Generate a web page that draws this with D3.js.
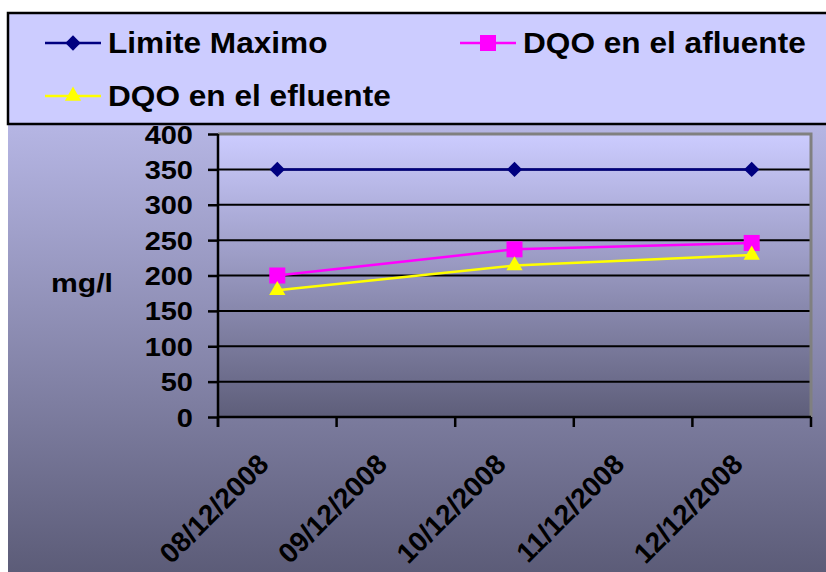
<!DOCTYPE html>
<html>
<head>
<meta charset="utf-8">
<script src="https://cdn.jsdelivr.net/npm/d3@7/dist/d3.min.js"></script>
<style>
  html, body { margin: 0; padding: 0; background: #fff; }
  svg { display: block; }
  text { font-family: "Liberation Sans", Arial, sans-serif; font-weight: bold; fill: #000; }
</style>
</head>
<body>
<svg id="chart" width="826" height="572"></svg>
<script>
// Fechas de muestreo (categorías del eje X)
const fechas = ["08/12/2008", "09/12/2008", "10/12/2008", "11/12/2008", "12/12/2008"];
// Valores en mg/l por fecha (null = sin muestra ese día)
const limiteMaximo = [350, null, 350, null, 350];
const dqoAfluente  = [200, null, 237, null, 246];
const dqoEfluente  = [179, null, 214, null, 229];
// Marcas del eje Y
const ticksY = [0, 50, 100, 150, 200, 250, 300, 350, 400];

const series = [
  { nombre: "Limite Maximo",      valores: limiteMaximo, color: "#000080", marca: "diamond" },
  { nombre: "DQO en el afluente", valores: dqoAfluente,  color: "#ff00ff", marca: "square" },
  { nombre: "DQO en el efluente", valores: dqoEfluente,  color: "#ffff00", marca: "triangle" }
];

const svg = d3.select("#chart");
const W = 826, H = 572;
const plot = { left: 218, right: 811, top: 134, bottom: 417 };
const ancho = 1.09; // ensanchamiento horizontal de los textos

const defs = svg.append("defs");
function vGrad(id, c0, c1) {
  const g = defs.append("linearGradient").attr("id", id)
    .attr("x1", 0).attr("y1", 0).attr("x2", 0).attr("y2", 1);
  g.append("stop").attr("offset", "0%").attr("stop-color", c0);
  g.append("stop").attr("offset", "100%").attr("stop-color", c1);
}
vGrad("fondo", "#ccccff", "#5c5c78");
vGrad("areaGrafico", "#ccccff", "#5e5e7a");

// Fondo del gráfico
svg.append("rect").attr("x", 8).attr("y", 13).attr("width", W - 8).attr("height", H - 13)
  .attr("fill", "url(#fondo)");

const x = d3.scaleBand().domain(fechas).range([plot.left, plot.right]).padding(0);
const y = d3.scaleLinear().domain([0, 400]).range([plot.bottom, plot.top]);
const cx = f => x(f) + x.bandwidth() / 2;

// Área de trazado
svg.append("rect")
  .attr("x", plot.left).attr("y", plot.top)
  .attr("width", plot.right - plot.left).attr("height", plot.bottom - plot.top)
  .attr("fill", "url(#areaGrafico)");

// Líneas de división horizontales
svg.append("g").selectAll("line").data(ticksY.filter(v => v > 0 && v < 400)).join("line")
  .attr("x1", plot.left).attr("x2", plot.right)
  .attr("y1", d => y(d)).attr("y2", d => y(d))
  .attr("stroke", "#000").attr("stroke-width", 2);

// Borde superior y derecho del área de trazado
svg.append("path")
  .attr("d", `M${plot.left},${plot.top}H${plot.right}V${plot.bottom}`)
  .attr("fill", "none").attr("stroke", "#808080").attr("stroke-width", 3);

// Eje Y
const ejeY = svg.append("g").attr("transform", `translate(${plot.left},0)`)
  .call(d3.axisLeft(y).tickValues(ticksY).tickSize(10).tickFormat(d3.format("d")));
ejeY.select(".domain").attr("stroke", "#000").attr("stroke-width", 2.5)
  .attr("d", `M0,${plot.top}V${plot.bottom + 10}`);
ejeY.selectAll(".tick line").attr("stroke", "#000").attr("stroke-width", 2.5);
ejeY.selectAll(".tick text")
  .attr("x", null).attr("dy", "0.36em")
  .attr("transform", `translate(-25,0) scale(${ancho + 0.07},1)`)
  .attr("font-size", 25).attr("font-family", null).attr("fill", "#000");

// Eje X
const bordes = fechas.map(f => x(f)).concat([plot.right]);
const ejeX = svg.append("g");
ejeX.append("line").attr("x1", plot.left).attr("x2", plot.right)
  .attr("y1", plot.bottom).attr("y2", plot.bottom)
  .attr("stroke", "#000").attr("stroke-width", 2.5);
ejeX.selectAll("line.marca").data(bordes).join("line").attr("class", "marca")
  .attr("x1", d => d).attr("x2", d => d)
  .attr("y1", plot.bottom).attr("y2", plot.bottom + 10)
  .attr("stroke", "#000").attr("stroke-width", 2.5);
ejeX.selectAll("text").data(fechas).join("text")
  .attr("transform", f => `translate(${cx(f) - 14},${plot.bottom + 42}) rotate(-45)`)
  .attr("text-anchor", "end").attr("dy", "0.35em")
  .attr("font-size", 28).text(f => f);

// Título del eje Y
svg.append("text").attr("transform", `translate(82,283) scale(${ancho + 0.07},1)`)
  .attr("text-anchor", "middle")
  .attr("dy", "0.35em").attr("font-size", 26).text("mg/l");

// Símbolos de las marcas
const simbolo = {
  diamond:  d3.symbol().type(d3.symbolDiamond2).size(150),
  square:   d3.symbol().type(d3.symbolSquare).size(256),
  triangle: d3.symbol().type(d3.symbolTriangle2).size(190)
};

// Series
const linea = d3.line().x(d => cx(d.f)).y(d => y(d.v));
series.forEach(s => {
  const pts = fechas.map((f, i) => ({ f, v: s.valores[i] })).filter(d => d.v != null);
  svg.append("path").datum(pts).attr("d", linea)
    .attr("fill", "none").attr("stroke", s.color).attr("stroke-width", 2.5);
  svg.append("g").selectAll("path").data(pts).join("path")
    .attr("transform", d => `translate(${cx(d.f)},${y(d.v)})`)
    .attr("d", simbolo[s.marca]).attr("fill", s.color);
});

// Leyenda
const ley = svg.append("g");
ley.append("rect").attr("x", 8).attr("y", 13).attr("width", W + 10).attr("height", 111)
  .attr("fill", "#ccccff").attr("stroke", "#000").attr("stroke-width", 2.5);
const posLeyenda = [
  { x: 45, y: 43 },
  { x: 460, y: 43 },
  { x: 45, y: 96 }
];
series.forEach((s, i) => {
  const p = posLeyenda[i];
  ley.append("line").attr("x1", p.x).attr("x2", p.x + 56).attr("y1", p.y).attr("y2", p.y)
    .attr("stroke", s.color).attr("stroke-width", 2.5);
  ley.append("path").attr("transform", `translate(${p.x + 28},${p.y})`)
    .attr("d", simbolo[s.marca]).attr("fill", s.color);
  ley.append("text").attr("transform", `translate(${p.x + 63},${p.y}) scale(${ancho},1)`)
    .attr("dy", "0.35em")
    .attr("font-size", 29).text(s.nombre);
});
</script>
</body>
</html>
